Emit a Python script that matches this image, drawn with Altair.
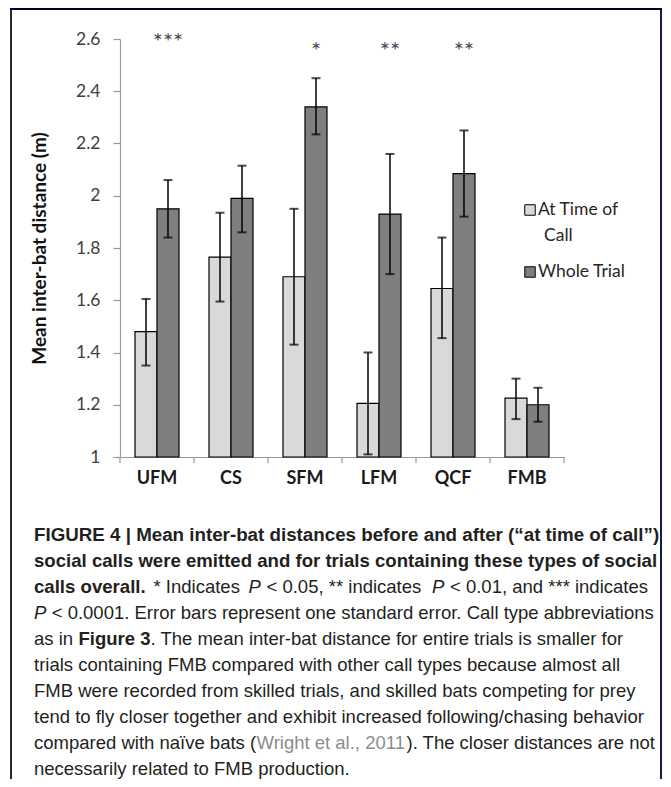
import altair as alt
import pandas as pd

# ---------------- data ----------------
categories = ["UFM", "CS", "SFM", "LFM", "QCF", "FMB"]
series_names = ["At Time of Call", "Whole Trial"]
at_call_mean = [1.48, 1.765, 1.69, 1.205, 1.645, 1.225]
at_call_low = [1.35, 1.595, 1.43, 1.01, 1.455, 1.145]
at_call_high = [1.605, 1.935, 1.95, 1.40, 1.84, 1.30]
whole_mean = [1.95, 1.99, 2.34, 1.93, 2.085, 1.20]
whole_low = [1.84, 1.86, 2.235, 1.70, 1.92, 1.135]
whole_high = [2.06, 2.115, 2.45, 2.16, 2.25, 1.265]
significance = ["***", "", "*", "**", "**", ""]
y_ticks = [1.0, 1.2, 1.4, 1.6, 1.8, 2.0, 2.2, 2.4, 2.6]
y_title = "Mean inter-bat distance (m)"

rows = []
for i, c in enumerate(categories):
    rows.append({"cat": c, "series": series_names[0], "mean": at_call_mean[i],
                 "low": at_call_low[i], "high": at_call_high[i], "sig": ""})
    rows.append({"cat": c, "series": series_names[1], "mean": whole_mean[i],
                 "low": whole_low[i], "high": whole_high[i], "sig": significance[i]})
df = pd.DataFrame(rows)
cat_df = pd.DataFrame({"cat": categories})
blank = pd.DataFrame({"k": [0]})

# ---------------- layout ----------------
W, H = 444, 418
PAD_L, PAD_T = 112, 31
FONT = "Lato"
CAP_FONT = "Liberation Sans, Arial, sans-serif"


def px(page_x):
    return page_x - 8 - PAD_L


def py(page_y):
    return page_y - 8 - PAD_T


x_scale = alt.Scale(domain=categories, paddingInner=0, paddingOuter=0)
xo_scale = alt.Scale(domain=series_names, paddingInner=0, paddingOuter=0.682)
y_scale = alt.Scale(domain=[1, 2.6], nice=False, zero=False)
color_scale = alt.Scale(domain=series_names, range=["#d9d9d9", "#7f7f7f"])

AX_COL = "#9a9a9a"
x_axis = alt.Axis(title=None, ticks=False, domainColor=AX_COL, domainWidth=1.2,
                  labelFont=FONT, labelFontWeight="bold", labelFontSize=18,
                  labelColor="#1a1a1a", labelPadding=12, labelAngle=0)
y_axis = alt.Axis(values=y_ticks, format=".1~f", grid=False,
                  domainColor=AX_COL, domainWidth=1.2, tickColor=AX_COL,
                  tickSize=7, tickWidth=1.2, labelFont=FONT, labelFontSize=17.5,
                  labelColor="#404040", labelPadding=13,
                  title=y_title, titleFont=FONT, titleFontSize=19,
                  titleFontWeight="bold", titleColor="#111111", titlePadding=26)

x_enc = alt.X("cat:N", sort=categories, scale=x_scale, axis=x_axis)
xo = alt.XOffset("series:N", sort=series_names, scale=xo_scale)


def y_enc(field):
    return alt.Y(field, scale=y_scale, axis=y_axis)


bars = alt.Chart(df).mark_bar(stroke="black", strokeWidth=1.2).encode(
    x=x_enc, xOffset=xo,
    y=y_enc("mean:Q"),
    y2=alt.datum(1),
    fill=alt.Fill("series:N", scale=color_scale, legend=None),
)

err_line = alt.Chart(df).mark_rule(color="black", strokeWidth=1.5).encode(
    x=x_enc, xOffset=xo, y=y_enc("low:Q"), y2="high:Q",
)
cap_low = alt.Chart(df).mark_tick(color="black", size=9, thickness=2).encode(
    x=x_enc, xOffset=xo, y=y_enc("low:Q"),
)
cap_high = alt.Chart(df).mark_tick(color="black", size=9, thickness=2).encode(
    x=x_enc, xOffset=xo, y=y_enc("high:Q"),
)

STAR_COL = "#4a4a58"
stars3 = alt.Chart(df).transform_filter(alt.datum.sig == "***").mark_text(
    font=FONT, fontSize=24, color=STAR_COL, baseline="alphabetic", align="center"
).encode(x=x_enc, xOffset=xo, y=alt.value(py(50)), text="sig:N")
stars_other = alt.Chart(df).transform_filter(
    (alt.datum.sig != "***") & (alt.datum.sig != "")
).mark_text(
    font=FONT, fontSize=24, color=STAR_COL, baseline="alphabetic", align="center"
).encode(x=x_enc, xOffset=xo, y=alt.value(py(59)), text="sig:N")

x_ticks = alt.Chart(cat_df).mark_rule(color=AX_COL, strokeWidth=1.2).encode(
    x=alt.X("cat:N", sort=categories, scale=x_scale, axis=x_axis, bandPosition=0),
    y=alt.value(H), y2=alt.value(H + 6),
)
x_tick_end = alt.Chart(blank).mark_rule(color=AX_COL, strokeWidth=1.2).encode(
    x=alt.value(W), y=alt.value(H), y2=alt.value(H + 6),
)


def txt(s, x, y, size, font, weight="normal", style="normal", color="black",
        align="left", baseline="middle"):
    return alt.Chart(blank).mark_text(
        text=s, font=font, fontSize=size, fontWeight=weight, fontStyle=style,
        color=color, align=align, baseline=baseline,
    ).encode(x=alt.value(x), y=alt.value(y))


# legend
LEG_COL = "#262626"
legend_layers = [
    alt.Chart(blank).mark_square(size=110, fill="#d9d9d9", stroke="black",
                                 strokeWidth=1, opacity=1).encode(
        x=alt.value(px(530)), y=alt.value(py(210))),
    txt("At Time of", px(538), py(210), 17.5, FONT, color=LEG_COL),
    txt("Call", px(544), py(236), 17.5, FONT, color=LEG_COL),
    alt.Chart(blank).mark_square(size=110, fill="#7f7f7f", stroke="black",
                                 strokeWidth=1, opacity=1).encode(
        x=alt.value(px(530)), y=alt.value(py(272))),
    txt("Whole Trial", px(538), py(272), 17.5, FONT, color=LEG_COL),
]


def hline(x1, x2, y, col):
    return alt.Chart(blank).mark_rule(color=col, strokeWidth=1.8).encode(
        x=alt.value(px(x1)), x2=alt.value(px(x2)), y=alt.value(py(y)))


def vline(x, y1, y2, col):
    return alt.Chart(blank).mark_rule(color=col, strokeWidth=1.8).encode(
        x=alt.value(px(x)), y=alt.value(py(y1)), y2=alt.value(py(y2)))


# frame around the figure
FRAME_COL = "#000033"
frame = [
    vline(11, 8, 800, "#111111"),
    hline(10, 662, 9, FRAME_COL),
    vline(661, 8, 800, FRAME_COL),
]

# caption
TXT_COL = "#231f20"
LINK_COL = "#8c8c8c"
caption_segments = [
    ("FIGURE 4 | Mean inter-bat distances before and after (\u201cat time of call\u201d)", 34, 0, "bold", "normal", TXT_COL, 18.75),
    ("social calls were emitted and for trials containing these types of social", 34, 1, "bold", "normal", TXT_COL, 18.6),
    ("calls overall.", 34, 2, "bold", "normal", TXT_COL, 18.6),
    ("* Indicates", 153.5, 2, "normal", "normal", TXT_COL, 18.5),
    ("P", 248.5, 2, "normal", "italic", TXT_COL, 18.5),
    ("< 0.05, ** indicates", 266.5, 2, "normal", "normal", TXT_COL, 18.5),
    ("P", 432.0, 2, "normal", "italic", TXT_COL, 18.5),
    ("< 0.01, and *** indicates", 450.0, 2, "normal", "normal", TXT_COL, 18.5),
    ("P", 34, 3, "normal", "italic", TXT_COL, 18.5),
    ("< 0.0001. Error bars represent one standard error. Call type abbreviations", 51.7, 3, "normal", "normal", TXT_COL, 18.5),
    ("as in", 34, 4, "normal", "normal", TXT_COL, 18.5),
    ("Figure 3", 78.5, 4, "bold", "normal", TXT_COL, 18.5),
    (". The mean inter-bat distance for entire trials is smaller for", 150.5, 4, "normal", "normal", TXT_COL, 18.5),
    ("trials containing FMB compared with other call types because almost all", 34, 5, "normal", "normal", TXT_COL, 18.5),
    ("FMB were recorded from skilled trials, and skilled bats competing for prey", 34, 6, "normal", "normal", TXT_COL, 18.5),
    ("tend to fly closer together and exhibit increased following/chasing behavior", 34, 7, "normal", "normal", TXT_COL, 18.5),
    ("compared with na\u00efve bats (", 34, 8, "normal", "normal", TXT_COL, 18.5),
    ("Wright et al., 2011", 256.5, 8, "normal", "normal", LINK_COL, 18.5),
    ("). The closer distances are not", 406.5, 8, "normal", "normal", TXT_COL, 18.5),
    ("necessarily related to FMB production.", 34, 9, "normal", "normal", TXT_COL, 18.5),
]
caption_layers = [
    txt(s, px(x), py(535 + 26 * li), size, CAP_FONT, weight=w, style=st, color=col)
    for (s, x, li, w, st, col, size) in caption_segments
]

chart = alt.layer(
    bars, err_line, cap_low, cap_high, stars3, stars_other, x_ticks, x_tick_end,
    *legend_layers, *frame, *caption_layers,
).properties(
    width=W, height=H,
    padding={"left": PAD_L, "top": PAD_T, "right": 655 - PAD_L - W, "bottom": 771 - PAD_T - H},
    autosize=alt.AutoSizeParams(type="none"),
    background="white",
).configure_view(stroke=None)

chart.save("out.html", embed_options={"renderer": "svg", "actions": False})
